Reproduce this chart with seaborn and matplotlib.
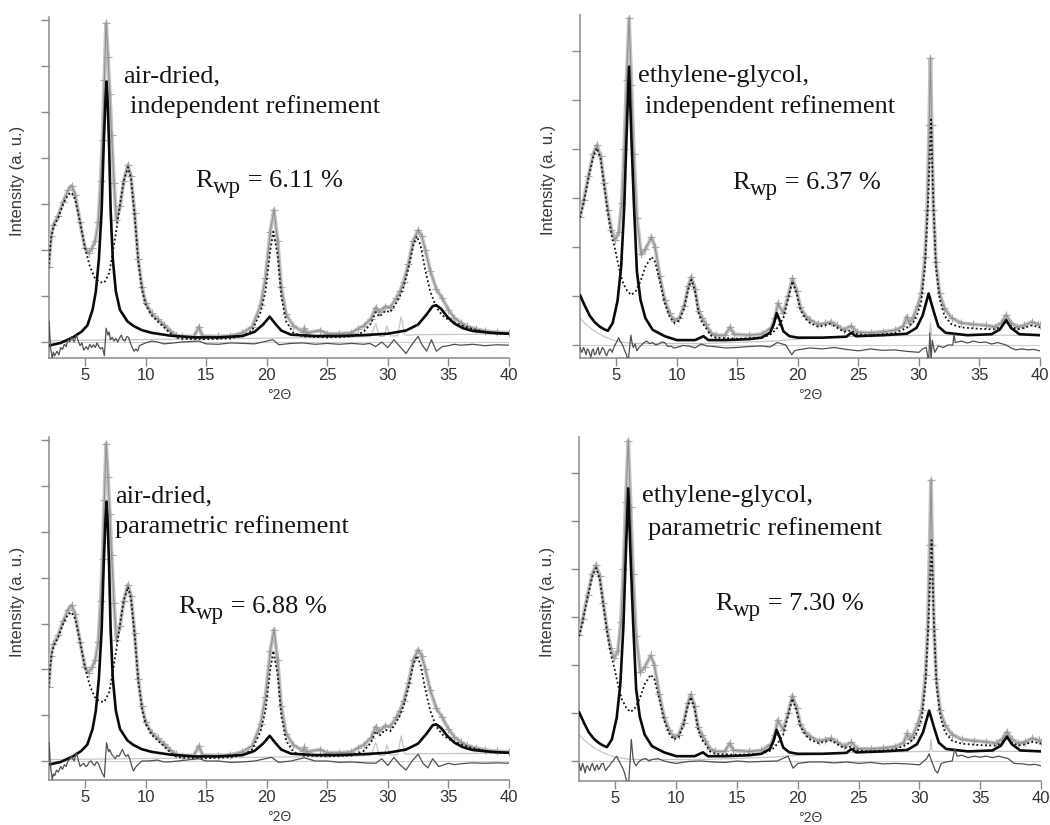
import numpy as np
import matplotlib
matplotlib.use('Agg')
import matplotlib.pyplot as plt
import seaborn as sns

sns.set_theme(style='ticks')
plt.rcParams['font.family'] = ['Liberation Sans', 'DejaVu Sans']

# ---- data (x = deg 2theta, y = tick units) ----
# air-dried sample
AD_OBS = [(2.0, 1.62), (2.2, 2.3), (2.4, 2.55), (2.8, 2.75), (3.2, 3.05), (3.6, 3.3), (3.9, 3.4),
          (4.2, 3.2), (4.6, 2.6), (5.0, 2.05), (5.3, 1.93), (5.6, 2.05), (5.85, 2.2), (6.1, 2.6),
          (6.3, 3.5), (6.45, 4.4), (6.6, 5.7), (6.75, 6.93), (6.9, 6.2), (7.05, 5.4), (7.2, 4.5),
          (7.4, 3.45), (7.6, 2.65), (7.9, 2.95), (8.2, 3.5), (8.55, 3.85), (8.8, 3.6), (9.1, 2.8),
          (9.4, 1.8), (9.7, 1.2), (10.0, 0.85), (10.5, 0.62), (11.0, 0.5), (11.5, 0.38), (12.0, 0.25),
          (12.5, 0.15), (13.0, 0.12), (14.0, 0.12), (14.4, 0.33), (14.7, 0.13), (16.0, 0.12),
          (17.0, 0.13), (18.0, 0.2), (18.8, 0.33), (19.5, 0.8), (19.9, 1.4), (20.3, 2.4), (20.6, 2.87),
          (20.9, 2.2), (21.2, 1.2), (21.6, 0.6), (22.2, 0.35), (23.0, 0.22), (23.1, 0.3), (23.3, 0.2),
          (24.4, 0.25), (25.0, 0.18), (26.0, 0.18), (27.0, 0.2), (27.5, 0.28), (28.0, 0.35),
          (28.6, 0.5), (29.0, 0.75), (29.3, 0.65), (29.8, 0.77), (30.2, 0.75), (30.7, 0.95),
          (31.0, 1.1), (31.3, 1.3), (31.7, 1.7), (32.1, 2.2), (32.5, 2.43), (32.8, 2.3), (33.1, 2.0),
          (33.5, 1.55), (34.0, 1.15), (34.5, 0.95), (35.0, 0.7), (35.5, 0.52), (36.0, 0.42),
          (36.5, 0.34), (37.3, 0.28), (38.0, 0.24), (39.0, 0.21), (40.0, 0.2)]
AD_PH1 = [(2.0, 1.6), (2.2, 2.25), (2.4, 2.5), (2.8, 2.7), (3.2, 3.0), (3.6, 3.2), (3.9, 3.25),
          (4.2, 3.1), (4.6, 2.6), (5.0, 2.05), (5.4, 1.65), (5.8, 1.4), (6.2, 1.3), (6.6, 1.29),
          (7.0, 1.5), (7.3, 1.95), (7.6, 2.45), (7.9, 3.0), (8.2, 3.5), (8.55, 3.8), (8.8, 3.55),
          (9.1, 2.75), (9.4, 1.75), (9.7, 1.15), (10.0, 0.82), (10.5, 0.58), (11.0, 0.45),
          (11.5, 0.33), (12.0, 0.2), (12.5, 0.1), (13.0, 0.07), (15.0, 0.06), (17.0, 0.08),
          (18.0, 0.13), (18.8, 0.25), (19.5, 0.65), (19.9, 1.1), (20.3, 2.0), (20.55, 2.4),
          (20.9, 1.9), (21.2, 1.0), (21.6, 0.45), (22.2, 0.2), (23.0, 0.12), (25.0, 0.1),
          (27.0, 0.12), (28.0, 0.22), (28.6, 0.4), (29.0, 0.65), (29.3, 0.55), (29.8, 0.68),
          (30.2, 0.65), (30.7, 0.85), (31.0, 1.0), (31.3, 1.2), (31.7, 1.6), (32.1, 2.1), (32.4, 2.3),
          (32.7, 2.1), (33.1, 1.55), (33.5, 1.1), (34.0, 0.75), (34.5, 0.58), (35.0, 0.48),
          (35.5, 0.42), (36.0, 0.37), (37.0, 0.28), (38.0, 0.22), (39.0, 0.18), (40.0, 0.17)]
AD_PH2 = [(2.0, -0.08), (3.0, -0.02), (4.0, 0.1), (4.7, 0.22), (5.2, 0.36), (5.63, 0.7), (5.9, 1.1),
          (6.15, 1.8), (6.38, 2.87), (6.55, 4.3), (6.7, 5.3), (6.78, 5.66), (6.88, 5.2), (7.0, 4.2),
          (7.12, 2.87), (7.3, 1.8), (7.55, 1.1), (7.89, 0.7), (8.5, 0.45), (9.0, 0.35), (9.67, 0.26),
          (10.5, 0.2), (12.0, 0.14), (14.0, 0.1), (16.0, 0.1), (18.0, 0.13), (19.0, 0.22),
          (19.7, 0.38), (20.25, 0.55), (20.7, 0.4), (21.2, 0.25), (22.0, 0.16), (24.0, 0.13),
          (26.0, 0.13), (28.0, 0.15), (30.0, 0.18), (31.5, 0.25), (32.5, 0.38), (33.2, 0.6),
          (33.7, 0.78), (34.0, 0.8), (34.4, 0.72), (34.9, 0.55), (35.5, 0.4), (36.2, 0.3),
          (37.0, 0.24), (38.5, 0.2), (40.0, 0.18)]
AD_PH3 = [(2.0, 0.03), (26.0, 0.1), (28.6, 0.12), (29.0, 0.4), (29.3, 0.12), (29.7, 0.12),
          (29.9, 0.35), (30.2, 0.13), (30.8, 0.14), (31.1, 0.55), (31.4, 0.15), (33.0, 0.16),
          (40.0, 0.17)]
AD_DIF_IND = [(2.0, 0.0), (2.05, 0.45), (2.15, -0.1), (2.3, -0.35), (2.4, -0.22), (2.5, -0.3),
              (2.7, -0.2), (2.85, -0.28), (3.0, -0.12), (3.15, -0.16), (3.3, -0.05), (3.45, -0.1),
              (3.6, 0.05), (3.75, 0.0), (3.9, 0.12), (4.1, 0.0), (4.3, 0.15), (4.45, 0.02),
              (4.6, -0.08), (4.75, -0.02), (4.9, -0.18), (5.1, -0.1), (5.25, -0.16), (5.4, -0.05),
              (5.55, -0.12), (5.7, -0.06), (5.85, -0.12), (6.0, -0.02), (6.15, -0.1), (6.3, -0.15),
              (6.45, -0.12), (6.6, -0.3), (6.75, 0.3), (6.9, 0.15), (7.0, 0.22), (7.1, 0.05),
              (7.25, 0.1), (7.4, 0.02), (7.55, 0.08), (7.7, 0.0), (7.85, 0.08), (8.0, 0.15),
              (8.15, 0.05), (8.3, 0.02), (8.45, 0.12), (8.6, 0.1), (8.75, -0.02), (8.9, -0.12),
              (9.05, -0.2), (9.2, -0.15), (9.35, -0.2), (9.5, -0.08), (9.75, -0.05), (10.0, -0.02),
              (10.5, 0.02), (11.0, 0.0), (11.5, -0.04), (12.0, -0.03), (13.0, 0.0), (14.4, 0.02),
              (15.0, -0.04), (16.0, -0.05), (17.0, -0.02), (18.0, -0.03), (19.0, -0.04),
              (20.5, 0.05), (21.0, -0.06), (22.0, -0.03), (23.0, -0.02), (24.0, -0.05),
              (25.0, -0.03), (26.0, -0.05), (27.0, -0.03), (28.0, -0.05), (28.5, -0.03),
              (29.0, -0.1), (29.5, 0.0), (30.0, -0.12), (30.5, 0.05), (31.0, -0.1), (31.5, -0.25),
              (32.0, -0.05), (32.5, 0.12), (32.8, -0.05), (33.2, -0.2), (33.6, 0.05), (34.0, -0.2),
              (34.5, -0.1), (35.0, -0.08), (35.5, -0.05), (36.0, -0.07), (37.0, -0.05),
              (38.0, -0.08), (39.0, -0.06), (40.0, -0.07)]
AD_DIF_PAR = [(2.0, 0.0), (2.05, 0.4), (2.15, -0.1), (2.3, -0.4), (2.4, -0.28), (2.5, -0.32),
              (2.65, -0.2), (2.8, -0.24), (3.0, -0.12), (3.15, -0.18), (3.3, -0.08), (3.45, -0.12),
              (3.6, 0.0), (3.75, 0.04), (3.9, 0.1), (4.1, 0.0), (4.3, 0.18), (4.45, 0.02),
              (4.6, -0.12), (4.75, -0.08), (4.9, -0.05), (5.05, -0.12), (5.2, -0.1), (5.35, -0.02),
              (5.5, 0.0), (5.65, -0.06), (5.8, -0.1), (5.95, -0.02), (6.1, -0.05), (6.25, -0.15),
              (6.4, -0.25), (6.6, -0.35), (6.78, 0.4), (6.95, 0.2), (7.05, 0.25), (7.2, 0.15),
              (7.35, 0.1), (7.5, 0.05), (7.65, 0.12), (7.8, 0.1), (7.95, 0.18), (8.1, 0.25),
              (8.25, 0.15), (8.4, 0.1), (8.55, 0.14), (8.7, 0.05), (8.85, -0.1), (9.0, -0.22),
              (9.15, -0.15), (9.3, -0.1), (9.5, -0.05), (9.7, 0.0), (10.2, 0.0), (11.0, 0.02),
              (11.5, -0.02), (12.0, -0.02), (13.0, 0.01), (14.4, 0.05), (15.0, 0.0), (16.0, 0.0),
              (17.0, -0.03), (18.0, -0.02), (19.0, 0.0), (20.4, 0.08), (21.0, -0.03), (22.0, 0.0),
              (23.1, 0.07), (24.0, 0.0), (25.0, 0.0), (26.0, -0.03), (27.0, -0.02), (28.0, -0.04),
              (29.0, -0.05), (29.5, 0.05), (30.0, -0.1), (30.5, 0.08), (31.0, -0.08), (31.5, -0.2),
              (32.0, 0.0), (32.5, 0.15), (32.9, -0.05), (33.3, -0.15), (33.7, 0.05), (34.2, -0.12),
              (35.0, -0.05), (35.5, -0.08), (36.0, -0.06), (37.0, -0.04), (38.0, -0.05),
              (39.0, -0.04), (40.0, -0.05)]

# ethylene-glycol sample
EG_OBS = [(2.0, 2.62), (2.3, 2.95), (2.7, 3.45), (3.1, 3.9), (3.4, 4.08), (3.7, 3.85), (4.0, 3.3),
          (4.3, 2.76), (4.6, 2.35), (4.9, 2.14), (5.2, 2.3), (5.45, 2.9), (5.65, 4.0), (5.85, 5.4),
          (6.05, 6.67), (6.25, 5.3), (6.45, 3.9), (6.7, 2.6), (7.05, 1.85), (7.4, 1.95), (7.9, 2.2),
          (8.2, 2.0), (8.6, 1.4), (9.0, 0.92), (9.4, 0.65), (9.8, 0.5), (10.2, 0.55), (10.6, 0.8),
          (10.95, 1.2), (11.2, 1.39), (11.5, 1.15), (11.8, 0.7), (12.1, 0.55), (12.4, 0.42),
          (12.8, 0.25), (13.2, 0.2), (14.0, 0.2), (14.4, 0.37), (14.7, 0.22), (16.0, 0.2),
          (17.0, 0.22), (17.8, 0.35), (18.1, 0.55), (18.35, 0.85), (18.8, 0.65), (19.2, 1.0),
          (19.55, 1.36), (19.9, 1.1), (20.2, 0.78), (20.6, 0.6), (21.0, 0.51), (21.7, 0.42),
          (22.2, 0.44), (22.7, 0.47), (23.2, 0.4), (23.8, 0.31), (24.4, 0.39), (24.9, 0.26),
          (26.0, 0.25), (27.0, 0.27), (28.0, 0.3), (28.7, 0.38), (29.0, 0.58), (29.2, 0.45),
          (29.5, 0.55), (29.9, 0.8), (30.2, 1.06), (30.5, 1.8), (30.68, 2.76), (30.85, 4.5),
          (30.95, 5.85), (31.05, 4.5), (31.2, 2.76), (31.4, 1.7), (31.7, 1.06), (32.1, 0.75),
          (32.7, 0.55), (33.5, 0.45), (34.5, 0.42), (35.5, 0.4), (36.3, 0.37), (36.8, 0.45),
          (37.2, 0.61), (37.6, 0.45), (38.1, 0.37), (38.7, 0.4), (39.3, 0.47), (39.8, 0.43),
          (40.0, 0.4)]
EG_PH1 = [(2.0, 2.6), (2.3, 2.9), (2.7, 3.4), (3.1, 3.85), (3.4, 4.02), (3.7, 3.8), (4.0, 3.25),
          (4.3, 2.7), (4.6, 2.25), (4.9, 1.95), (5.2, 1.6), (5.5, 1.3), (5.9, 1.1), (6.25, 1.02),
          (6.6, 1.1), (7.0, 1.3), (7.4, 1.6), (7.9, 1.8), (8.2, 1.7), (8.6, 1.3), (9.0, 0.85),
          (9.4, 0.58), (9.8, 0.45), (10.2, 0.5), (10.6, 0.75), (10.95, 1.15), (11.2, 1.33),
          (11.5, 1.1), (11.8, 0.65), (12.1, 0.45), (12.4, 0.35), (12.8, 0.2), (13.2, 0.15),
          (15.0, 0.13), (17.0, 0.15), (17.8, 0.22), (18.3, 0.35), (18.8, 0.55), (19.2, 0.95),
          (19.55, 1.3), (19.9, 1.05), (20.2, 0.72), (20.6, 0.55), (21.0, 0.45), (21.7, 0.37),
          (22.2, 0.4), (22.7, 0.43), (23.2, 0.36), (23.8, 0.27), (24.4, 0.3), (24.9, 0.22),
          (26.0, 0.2), (28.0, 0.24), (29.0, 0.35), (29.5, 0.45), (29.9, 0.65), (30.2, 0.9),
          (30.5, 1.6), (30.75, 2.9), (31.0, 4.6), (31.15, 3.2), (31.4, 1.6), (31.7, 0.95),
          (32.1, 0.6), (32.7, 0.42), (33.5, 0.36), (35.0, 0.33), (36.3, 0.32), (36.8, 0.38),
          (37.2, 0.48), (37.6, 0.38), (38.1, 0.32), (38.7, 0.35), (39.3, 0.4), (40.0, 0.36)]
EG_PH2 = [(2.0, 1.02), (2.4, 0.8), (2.8, 0.6), (3.2, 0.47), (3.6, 0.38), (4.0, 0.32), (4.3, 0.29),
          (4.7, 0.45), (5.1, 0.9), (5.4, 1.6), (5.65, 2.8), (5.85, 4.3), (6.05, 5.68), (6.25, 4.2),
          (6.45, 2.9), (6.7, 1.5), (7.0, 0.92), (7.4, 0.55), (8.0, 0.31), (9.0, 0.18), (10.0, 0.1),
          (11.5, 0.1), (12.2, 0.18), (12.6, 0.1), (14.0, 0.1), (16.0, 0.12), (17.0, 0.15),
          (17.7, 0.25), (18.0, 0.42), (18.25, 0.65), (18.5, 0.5), (18.8, 0.28), (19.3, 0.18),
          (20.0, 0.15), (22.0, 0.15), (24.0, 0.17), (24.4, 0.25), (24.8, 0.18), (27.0, 0.2),
          (29.0, 0.23), (29.8, 0.35), (30.3, 0.6), (30.8, 1.05), (31.2, 0.7), (31.6, 0.38),
          (32.2, 0.25), (34.0, 0.2), (36.0, 0.22), (36.7, 0.32), (37.2, 0.51), (37.6, 0.35),
          (38.3, 0.22), (40.0, 0.2)]
EG_PH3 = [(2.0, 0.55), (2.5, 0.42), (3.0, 0.32), (3.5, 0.24), (4.0, 0.17), (4.5, 0.12), (5.0, 0.08),
          (6.0, 0.04), (7.0, 0.03), (12.0, 0.03), (18.0, 0.08), (20.0, 0.12), (25.0, 0.18),
          (30.85, 0.2), (30.95, 0.45), (31.05, 0.2), (40.0, 0.2)]
EG_DIF_IND = [(2.0, -0.05), (2.15, -0.15), (2.3, -0.05), (2.4, -0.12), (2.5, -0.2), (2.6, -0.08),
              (2.7, -0.1), (2.8, -0.18), (2.9, -0.25), (3.0, -0.12), (3.1, -0.08), (3.2, -0.2),
              (3.3, -0.18), (3.4, -0.1), (3.5, -0.05), (3.6, -0.2), (3.7, -0.15), (3.85, -0.05),
              (4.0, -0.1), (4.1, -0.18), (4.2, -0.22), (4.35, -0.12), (4.5, -0.08), (4.65, -0.15),
              (4.8, -0.05), (5.0, 0.05), (5.2, 0.15), (5.3, 0.08), (5.4, 0.05), (5.55, -0.02),
              (5.7, -0.12), (5.85, -0.2), (5.95, -0.4), (6.1, -0.05), (6.2, 0.2), (6.3, 0.05),
              (6.4, -0.05), (6.55, 0.02), (6.7, -0.12), (6.85, -0.06), (7.0, -0.02), (7.25, 0.04),
              (7.5, 0.08), (7.75, 0.03), (8.0, 0.05), (8.25, 0.0), (8.5, 0.02), (8.75, 0.06),
              (9.0, 0.05), (9.25, -0.03), (9.5, -0.02), (9.75, -0.06), (10.0, -0.05), (10.5, -0.01),
              (11.0, -0.02), (11.5, -0.06), (12.0, 0.02), (12.5, -0.02), (13.0, -0.03), (14.0, -0.06),
              (15.0, -0.05), (16.0, -0.03), (17.0, -0.02), (17.7, -0.04), (18.3, 0.05), (19.0, 0.0),
              (19.5, -0.2), (19.7, -0.12), (20.0, -0.1), (21.0, -0.06), (22.0, -0.08), (23.0, -0.05),
              (24.0, -0.09), (25.0, -0.12), (26.0, -0.08), (27.0, -0.11), (28.0, -0.1),
              (29.0, -0.13), (30.0, -0.15), (30.3, -0.08), (30.6, -0.05), (30.8, -0.35),
              (30.9, 0.25), (31.0, -0.3), (31.1, 0.1), (31.3, -0.15), (31.6, -0.02), (32.0, -0.05),
              (32.4, 0.0), (32.8, 0.0), (32.9, 0.22), (33.0, 0.05), (33.5, 0.08), (34.0, 0.04),
              (34.5, 0.08), (35.0, 0.05), (35.5, 0.06), (36.0, 0.02), (36.5, 0.05), (37.2, 0.0),
              (37.6, -0.06), (38.0, -0.1), (38.5, -0.08), (39.0, -0.1), (39.5, -0.09), (40.0, -0.12)]
EG_DIF_PAR = [(2.0, -0.05), (2.15, -0.2), (2.3, -0.05), (2.4, -0.14), (2.5, -0.25), (2.6, -0.12),
              (2.7, -0.1), (2.8, -0.16), (2.9, -0.2), (3.0, -0.1), (3.1, -0.05), (3.2, -0.14),
              (3.3, -0.2), (3.4, -0.12), (3.5, -0.08), (3.6, -0.18), (3.7, -0.15), (3.85, -0.06),
              (4.0, -0.05), (4.1, -0.14), (4.2, -0.2), (4.35, -0.14), (4.5, -0.1), (4.65, -0.04),
              (4.8, 0.0), (4.95, 0.06), (5.1, 0.1), (5.2, 0.04), (5.3, 0.0), (5.45, -0.08),
              (5.6, -0.15), (5.75, -0.25), (5.9, -0.4), (6.05, -0.6), (6.2, 0.0), (6.3, 0.45),
              (6.45, 0.05), (6.55, -0.04), (6.7, -0.1), (6.85, -0.04), (7.0, 0.0), (7.25, 0.04),
              (7.5, 0.05), (7.75, 0.0), (8.0, 0.03), (8.5, 0.05), (9.0, 0.0), (9.5, -0.03),
              (10.0, -0.05), (11.0, -0.01), (12.0, 0.0), (13.0, -0.02), (14.0, -0.03), (15.0, 0.0),
              (16.0, -0.02), (17.0, -0.01), (18.3, 0.0), (19.2, 0.1), (19.6, -0.15), (20.0, -0.05),
              (21.0, -0.02), (22.0, -0.02), (23.0, -0.04), (24.0, -0.02), (25.0, -0.05),
              (26.0, -0.03), (27.0, -0.06), (28.0, -0.05), (29.0, -0.06), (30.0, -0.08),
              (30.6, 0.05), (30.8, 0.15), (31.0, 0.0), (31.3, -0.2), (31.5, -0.25), (31.8, -0.05),
              (32.2, -0.02), (32.7, 0.0), (32.9, 0.25), (33.1, 0.1), (33.5, 0.12), (34.0, 0.07),
              (34.5, 0.1), (35.0, 0.08), (35.5, 0.1), (36.0, 0.07), (36.5, 0.1), (37.3, 0.05),
              (37.8, -0.05), (38.5, -0.06), (39.0, -0.08), (39.5, -0.07), (40.0, -0.1)]

SAMPLES = ['air-dried,', 'ethylene-glycol,', 'air-dried,', 'ethylene-glycol,']
METHODS = ['independent refinement', 'independent refinement',
           'parametric refinement', 'parametric refinement']
RWP = ['6.11', '6.37', '6.88', '7.30']
X_TICKS = [5, 10, 15, 20, 25, 30, 35, 40]

W, H = 1050, 825
fig = plt.figure(figsize=(W / 100, H / 100), dpi=100)
renderer = fig.canvas.get_renderer()


def fx(px):
    return px / W


def fy(py):
    return 1 - py / H


# pixel boxes: left, right, top, bottom, zero-line y, px per tick unit
panels = [
    dict(box=(48.6, 509, 17, 358), zero=342, unit=46.0, n=7,
         data=(AD_OBS, AD_PH1, AD_PH2, AD_PH3, AD_DIF_IND),
         txt=((123, 82), (130, 113), (195, 187))),
    dict(box=(580, 1040, 15, 358), zero=345, unit=49.0, n=6,
         data=(EG_OBS, EG_PH1, EG_PH2, EG_PH3, EG_DIF_IND),
         txt=((638, 82), (645, 113), (732, 189))),
    dict(box=(48.6, 509, 437, 780), zero=761, unit=45.8, n=7,
         data=(AD_OBS, AD_PH1, AD_PH2, AD_PH3, AD_DIF_PAR),
         txt=((115, 502), (115, 533), (178, 613))),
    dict(box=(579, 1041, 437, 781), zero=761, unit=48.0, n=6,
         data=(EG_OBS, EG_PH1, EG_PH2, EG_PH3, EG_DIF_PAR),
         txt=((642, 502), (648, 535), (715, 610))),
]

spine_c = '#8a8a8a'
serif = ['Liberation Serif', 'DejaVu Serif']
txt_c = '#151515'


def put_text(px, py, s, size=19, dy=0):
    t = fig.text(fx(px), fy(py + dy), s, family=serif, fontsize=size, va='baseline',
                 ha='left', color=txt_c)
    bb = t.get_window_extent(renderer)
    return px + bb.width


for i, p in enumerate(panels):
    l, r, t, b = p['box']
    ax = fig.add_axes([fx(l), fy(b), fx(r - l), (b - t) / H])
    obs, ph1, ph2, ph3, dif = [np.array(d) for d in p['data']]

    ax.axhline(0, color='#cfcfcf', lw=0.8, zorder=1)
    sns.lineplot(x=ph3[:, 0], y=ph3[:, 1], ax=ax, color='#c6c6c6', lw=0.9, zorder=2)
    sns.lineplot(x=obs[:, 0], y=obs[:, 1], ax=ax, color='#c3c3c3', lw=2.8, zorder=3)
    sns.scatterplot(x=obs[:, 0], y=obs[:, 1], ax=ax, marker='+', s=26, color='#a8a8a8',
                    linewidth=0.8, zorder=3)
    sns.lineplot(x=obs[:, 0], y=obs[:, 1], ax=ax, color='#8c8c8c', lw=0.7, zorder=4)
    sns.lineplot(x=ph1[:, 0], y=ph1[:, 1], ax=ax, color='#111111', lw=1.3, linestyle=(0, (1, 1.4)),
                 zorder=5)
    sns.lineplot(x=ph2[:, 0], y=ph2[:, 1], ax=ax, color='#0a0a0a', lw=1.9, zorder=6)
    sns.lineplot(x=dif[:, 0], y=dif[:, 1], ax=ax, color='#505050', lw=0.9, zorder=6)

    ax.set_xlim(2, 40)
    ax.set_ylim((p['zero'] - b) / p['unit'], (p['zero'] - t) / p['unit'])
    ax.set_xticks(X_TICKS)
    ax.set_yticks(range(0, p['n'] + 1))
    ax.set_yticklabels([])
    ax.tick_params(axis='both', direction='out', length=5.5, width=1, color=spine_c,
                   labelcolor='#333333', labelsize=12, pad=2)
    sns.despine(ax=ax)
    for s in ('left', 'bottom'):
        ax.spines[s].set_color(spine_c)
        ax.spines[s].set_linewidth(1.1)

    ax.set_ylabel('Intensity (a. u.)', fontsize=12, color='#3a3a3a')
    ax.yaxis.set_label_coords(-0.052, 0.52)
    ax.set_xlabel('°2Θ', fontsize=10, color='#3a3a3a')
    ax.xaxis.set_label_coords(0.5, -0.088)

    (x1, y1), (x2, y2), (x3, y3) = p['txt']
    put_text(x1, y1, SAMPLES[i])
    put_text(x2, y2, METHODS[i])
    nx = put_text(x3, y3, 'R')
    nx = put_text(nx, y3, 'wp', size=16.5, dy=6)
    put_text(nx, y3, ' = ' + RWP[i] + ' %')

fig.savefig('out.png', dpi=100)
